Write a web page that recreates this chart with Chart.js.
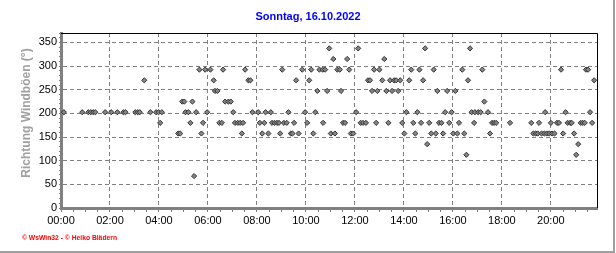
<!DOCTYPE html>
<html>
<head>
<meta charset="utf-8">
<script src="https://cdn.jsdelivr.net/npm/chart.js@4.4.1/dist/chart.umd.min.js"></script>
<style>
  html, body { margin: 0; padding: 0; background: #fff; }
  canvas { display: block; }
</style>
</head>
<body>
<canvas id="grafico" width="616" height="253"></canvas>
<script>
const titel = 'Sonntag, 16.10.2022';
const achseY = 'Richtung Windböen (°)';
const quelle = '© WsWin32 - © Heiko Blädern';

// Uhrzeit und Richtung der Windböen (Grad)
const zeiten = [
  '00:07','00:52','01:07','01:13','01:19','01:24','01:48','02:03','02:18','02:33',
  '02:38','03:02','03:08','03:13','03:24','03:39','03:53','03:59','04:03','04:07',
  '04:47','04:52','04:57','05:02','05:05','05:12','05:17','05:22','05:26','05:31',
  '05:39','05:44','05:48','05:53','05:58','06:06','06:14','06:17','06:23','06:28',
  '06:34','06:37','06:42','06:50','06:56','07:02','07:06','07:13','07:19','07:23',
  '07:26','07:31','07:39','07:44','07:49','08:03','08:07','08:13','08:18','08:21',
  '08:28','08:34','08:37','08:43','08:49','08:54','08:57','09:02','09:06','09:13',
  '09:17','09:23','09:27','09:31','09:36','09:42','09:51','09:58','10:03','10:08',
  '10:13','10:18','10:23','10:28','10:33','10:41','10:42','10:47','10:52','10:57',
  '11:01','11:07','11:11','11:17','11:23','11:26','11:31','11:36','11:41','11:46',
  '11:50','11:56','12:03','12:08','12:14','12:20','12:27','12:32','12:37','12:42',
  '12:47','12:52','12:55','13:00','13:07','13:12','13:17','13:22','13:26','13:31',
  '13:36','13:41','13:46','13:51','13:56','14:01','14:06','14:13','14:18','14:23',
  '14:28','14:33','14:38','14:42','14:47','14:52','14:57','15:02','15:07','15:13',
  '15:18','15:22','15:26','15:32','15:36','15:41','15:46','15:51','15:57','16:01',
  '16:06','16:11','16:15','16:23','16:28','16:33','16:37','16:42','16:46','16:52',
  '16:54','17:02','17:08','17:12','17:17','17:26','17:31','17:36','17:41','17:46',
  '18:20','19:12','19:17','19:23','19:28','19:31','19:37','19:44','19:46','19:50',
  '19:56','20:00','20:03','20:09','20:15','20:20','20:25','20:30','20:36','20:41',
  '20:47','20:51','20:57','21:02','21:07','21:13','21:18','21:23','21:26','21:31',
  '21:36','21:41','21:46'
];
const richtung = [
  202.5,202.5,202.5,202.5,202.5,202.5,202.5,202.5,202.5,202.5,
  202.5,202.5,202.5,202.5,270,202.5,202.5,202.5,180,202.5,
  157.5,157.5,225,225,202.5,202.5,180,225,67.5,202.5,
  292.5,157.5,180,292.5,202.5,292.5,270,247.5,247.5,180,
  180,292.5,225,225,225,202.5,180,180,180,157.5,
  180,292.5,270,270,202.5,202.5,180,157.5,180,202.5,
  157.5,202.5,180,180,180,180,157.5,292.5,180,180,
  202.5,157.5,157.5,180,270,157.5,292.5,202.5,180,270,
  292.5,157.5,202.5,247.5,292.5,292.5,180,292.5,247.5,337.5,
  157.5,315,157.5,292.5,292.5,247.5,180,180,315,292.5,
  157.5,157.5,202.5,337.5,180,180,180,270,270,247.5,
  292.5,180,247.5,292.5,270,315,247.5,180,270,247.5,
  270,270,247.5,270,180,157.5,202.5,270,292.5,180,
  157.5,202.5,292.5,180,270,337.5,135,180,157.5,292.5,
  157.5,247.5,180,180,157.5,202.5,247.5,180,202.5,157.5,
  247.5,157.5,180,292.5,157.5,112.5,270,337.5,202.5,180,
  202.5,202.5,202.5,292.5,225,202.5,157.5,180,180,180,
  180,180,157.5,157.5,157.5,180,157.5,157.5,202.5,157.5,
  157.5,180,157.5,157.5,180,180,292.5,157.5,202.5,180,
  180,180,157.5,112.5,135,180,180,180,292.5,292.5,
  202.5,180,270
];

const xEnde = 1313;   // letzter Wert ~21:53 (Minuten)
const yMax = 370;

function minuten(t) {
  const [h, m] = t.split(':');
  return Number(h) * 60 + Number(m);
}
function hhmm(v) {
  const h = Math.floor(v / 60), m = v % 60;
  return String(h).padStart(2, '0') + ':' + String(m).padStart(2, '0');
}

const punkte = zeiten.map((t, i) => ({ x: minuten(t), y: richtung[i] }));

const schrift = '"Liberation Sans", Arial, sans-serif';

const rahmen = {
  id: 'rahmen',
  afterDraw(chart) {
    const { ctx, chartArea: a } = chart;
    ctx.save();
    // schwarze Linie oben und rechts
    ctx.strokeStyle = '#000';
    ctx.lineWidth = 1;
    ctx.beginPath();
    ctx.moveTo(a.left, a.top + 0.5);
    ctx.lineTo(a.right + 0.5, a.top + 0.5);
    ctx.lineTo(a.right + 0.5, a.bottom);
    ctx.stroke();

    // grauer Rand rechts / unten
    ctx.fillStyle = '#a0a0a0';
    ctx.fillRect(613, 0, 2, 253);
    ctx.fillRect(0, 251, 615, 2);

    // Titel
    ctx.fillStyle = '#0000ff';
    ctx.font = 'bold 11px ' + schrift;
    ctx.textAlign = 'center';
    ctx.textBaseline = 'middle';
    ctx.fillText(titel, 308, 17);

    // Quelle
    ctx.fillStyle = '#ff0000';
    ctx.font = 'bold 8px ' + schrift;
    ctx.textAlign = 'left';
    const w = ctx.measureText(quelle).width;
    ctx.save();
    ctx.translate(22, 238);
    ctx.scale(95 / w, 1);
    ctx.fillText(quelle, 0, 0);
    ctx.restore();

    // Achsentitel y
    ctx.translate(27, 113);
    ctx.rotate(-Math.PI / 2);
    ctx.fillStyle = '#a0a0a0';
    ctx.font = 'bold 12px ' + schrift;
    ctx.textAlign = 'center';
    ctx.fillText(achseY, 0, 0);
    ctx.restore();
  }
};

new Chart(document.getElementById('grafico'), {
  type: 'scatter',
  data: {
    datasets: [{
      label: achseY,
      data: punkte,
      pointStyle: 'rectRot',
      pointRadius: 2.6,
      borderWidth: 1,
      borderColor: '#333333',
      backgroundColor: '#858585',
    }]
  },
  options: {
    responsive: false,
    animation: false,
    layout: { padding: { left: 0, top: 33, right: 19, bottom: 0 } },
    plugins: {
      legend: { display: false },
      tooltip: { enabled: false },
      title: { display: false },
    },
    scales: {
      x: {
        type: 'linear',
        min: 0,
        max: xEnde,
        afterFit: s => { s.height = 45; },
        ticks: {
          stepSize: 30,
          includeBounds: false,
          autoSkip: false,
          maxRotation: 0,
          padding: 2,
          color: '#000',
          font: { family: schrift, size: 11 },
          callback: v => (v % 120 === 0 ? hhmm(v) : ''),
        },
        grid: {
          color: c => (c.tick && c.tick.value % 120 === 0 && c.tick.value > 0 ? '#808080' : 'rgba(0,0,0,0)'),
          tickColor: '#808080',
          tickLength: 4,
          tickBorderDash: [],
        },
        border: { color: '#808080', width: 3, dash: [4, 3] },
      },
      y: {
        min: 0,
        max: yMax,
        afterFit: s => { s.width = 61; },
        ticks: {
          stepSize: 10,
          includeBounds: false,
          autoSkip: false,
          padding: 2,
          color: '#000',
          font: { family: schrift, size: 11 },
          callback: v => (v % 50 === 0 ? v : ''),
        },
        grid: {
          color: c => (c.tick && c.tick.value % 50 === 0 && c.tick.value > 0 ? '#808080' : 'rgba(0,0,0,0)'),
          tickColor: '#808080',
          tickLength: 2,
          tickBorderDash: [],
        },
        border: { color: '#808080', width: 3, dash: [4, 3] },
      }
    }
  },
  plugins: [rahmen]
});
</script>
</body>
</html>
